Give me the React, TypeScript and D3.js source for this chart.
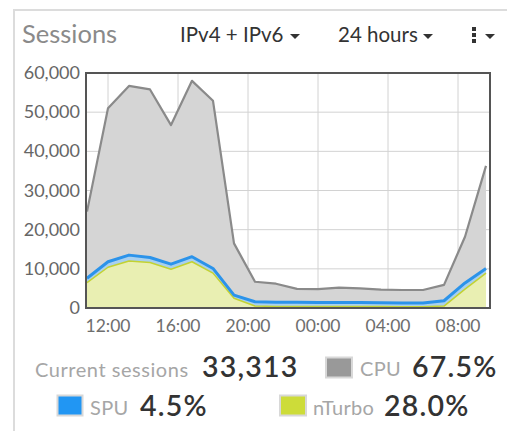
import React from "react";
import * as d3 from "d3";

const hours = [10.8, 12.0, 13.2, 14.4, 15.6, 16.8, 18.0, 19.2, 20.4, 21.6, 22.8, 24.0, 25.2, 26.4, 27.6, 28.8, 30.0, 31.2, 32.4, 33.6];
const nTurbo = [6500, 10400, 12000, 11600, 9900, 11800, 8900, 2500, 500, 400, 400, 400, 400, 400, 400, 350, 350, 500, 4800, 8900];
const spu = [1100, 1400, 1500, 1300, 1300, 1300, 1200, 800, 1100, 1050, 1050, 1000, 1000, 1000, 950, 950, 950, 1350, 1600, 1200];
const cpu = [17000, 39200, 43200, 42900, 35500, 44900, 42800, 13200, 5100, 4750, 3450, 3400, 3800, 3600, 3350, 3300, 3300, 4050, 11800, 26200];
const yTicks = [0, 10000, 20000, 30000, 40000, 50000, 60000];
const xTicks = [12, 16, 20, 24, 28, 32];
const xTickLabels = ["12:00", "16:00", "20:00", "00:00", "04:00", "08:00"];
const seriesKeys = ["nTurbo", "spu", "cpu"];

const FONT = "Lato, 'Open Sans', sans-serif";

export default function App() {
  const left = 86, right = 490, top = 73, bottom = 308;
  const x = d3.scaleLinear().domain([10.8, 33.6]).range([87, 486]);
  const y = d3.scaleLinear().domain([0, 60000]).range([bottom, top]);
  const rows = hours.map((h, i) => ({ h, nTurbo: nTurbo[i], spu: spu[i], cpu: cpu[i] }));
  const stacked = d3.stack<any>().keys(seriesKeys)(rows);
  const area = d3.area<any>().x((d) => x(d.data.h)).y0((d) => y(d[0])).y1((d) => y(d[1]));
  const line = d3.line<any>().x((d) => x(d.data.h)).y((d) => y(d[1]));
  const fills = ["#e9efb2", "#a9d0ee", "#d5d5d5"];
  const strokes = ["#c3d232", "#2b93ea", "#8a8a8a"];
  const widths = [1.5, 3, 2.2];
  const fmt = d3.format(",");
  const big = { fontFamily: FONT, fontSize: 28.5, fontWeight: 600, fill: "#333", letterSpacing: 1.2 } as any;
  const lab = { fontFamily: FONT, fontSize: 20, fill: "#a6a6a6", letterSpacing: 0.3 } as any;

  return (
    <svg width={507} height={431} style={{ position: "absolute", left: 0, top: 0 }}>
      <rect x={0} y={0} width={507} height={431} fill="#fff" />
      <line x1={14} y1={10} x2={14} y2={431} stroke="#dcdcdc" strokeWidth={2} />
      <line x1={13} y1={10} x2={507} y2={10} stroke="#dcdcdc" strokeWidth={2} />
      <text x={22} y={43} fontFamily={FONT} fontSize={25.5} fill="#8a8a8a">Sessions</text>
      <text x={180} y={42} fontFamily={FONT} fontSize={20.5} fill="#333">IPv4 + IPv6</text>
      <path d="M290,34 L300,34 L295,39 Z" fill="#333" />
      <text x={338} y={42} fontFamily={FONT} fontSize={20.5} fill="#333">24 hours</text>
      <path d="M423,34 L433,34 L428,39 Z" fill="#333" />
      <rect x={472} y={27} width={4} height={4} fill="#333" />
      <rect x={472} y={33} width={4} height={4} fill="#333" />
      <rect x={472} y={39} width={4} height={4} fill="#333" />
      <path d="M485,34 L495,34 L490,39 Z" fill="#333" />

      {yTicks.map((t) => (
        <g key={t}>
          <line x1={left} x2={right} y1={y(t)} y2={y(t)} stroke="#d2d2d2" strokeWidth={1} />
          <text x={80} y={y(t) + 6} textAnchor="end" fontFamily={FONT} fontSize={18} fill="#666">{fmt(t)}</text>
        </g>
      ))}
      {xTicks.map((t, i) => (
        <g key={t}>
          <line x1={x(t)} x2={x(t)} y1={top} y2={bottom} stroke="#d2d2d2" strokeWidth={1} />
          <text x={x(t)} y={332} textAnchor="middle" fontFamily={FONT} fontSize={17.5} fill="#6e6e6e">{xTickLabels[i]}</text>
        </g>
      ))}
      {stacked.map((s, i) => (
        <path key={"a" + i} d={area(s) || ""} fill={fills[i]} />
      ))}
      {stacked.map((s, i) => (
        <path key={"l" + i} d={line(s) || ""} fill="none" stroke={strokes[i]} strokeWidth={widths[i]} strokeLinejoin="round" />
      ))}
      <rect x={left} y={top} width={right - left} height={bottom - top} fill="none" stroke="#555" strokeWidth={2} />

      <text x={35} y={377} {...lab} fontSize={20} letterSpacing={0.55}>Current sessions</text>
      <text x={202} y={377} {...big}>33,313</text>
      <rect x={326} y={357.5} width={26} height={20} fill="#999" stroke="#d8d8d8" strokeWidth={2} />
      <text x={360} y={376} {...lab}>CPU</text>
      <text x={412} y={377} {...big}>67.5%</text>

      <rect x={57.5} y={395.5} width={25} height={20} fill="#2196f3" stroke="#d8d8d8" strokeWidth={2} />
      <text x={90} y={415} {...lab}>SPU</text>
      <text x={140} y={416} {...big}>4.5%</text>
      <rect x={280} y={395.5} width={26} height={20} fill="#cddc39" stroke="#d8d8d8" strokeWidth={2} />
      <text x={313} y={415} {...lab}>nTurbo</text>
      <text x={384} y={416} {...big}>28.0%</text>
    </svg>
  );
}
